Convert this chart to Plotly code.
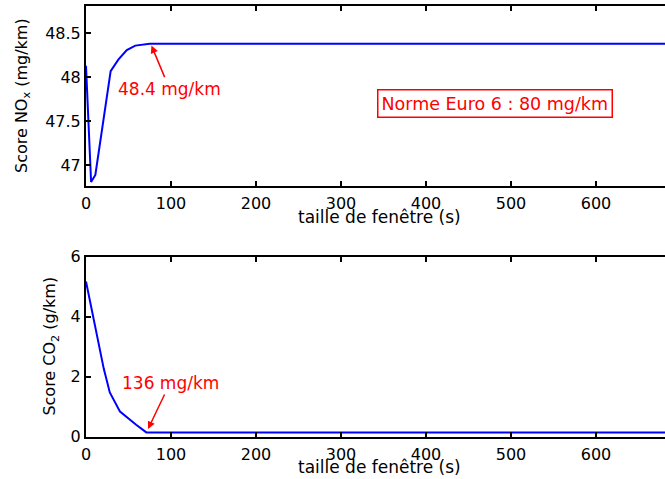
import plotly.graph_objects as go

# ---- data ----
window_nox = [0, 6, 11, 29, 38, 48, 58, 69, 75, 690]
score_nox = [48.13, 46.81, 46.89, 48.07, 48.20, 48.31, 48.36, 48.375, 48.38, 48.38]

window_co2 = [0, 21, 28, 40, 59, 71, 690]
score_co2 = [5.17, 2.25, 1.47, 0.83, 0.39, 0.136, 0.136]

x_ticks = [0, 100, 200, 300, 400, 500, 600]
nox_ticks = [47, 47.5, 48, 48.5]
nox_ticktext = ["47", "47.5", "48", "48.5"]
co2_ticks = [0, 2, 4, 6]

nox_note = "48.4 mg/km"
co2_note = "136 mg/km"
euro_note = "Norme Euro 6 : 80 mg/km"
xlabel = "taille de fenêtre (s)"
ylabel_nox = "Score NO<sub>x</sub> (mg/km)"
ylabel_co2 = "Score CO<sub>2</sub> (g/km)"

# ---- layout geometry ----
W, H = 665, 479
L = 86
PW = W - L
def py(p):  # pixel y -> paper y
    return 1 - p / H
def px(p):
    return (p - L) / PW

FONT = "DejaVu Sans"
fig = go.Figure()
fig.add_trace(go.Scatter(x=window_nox, y=score_nox, mode="lines",
                         line=dict(color="#0000FF", width=2), xaxis="x", yaxis="y",
                         showlegend=False, hoverinfo="skip"))
fig.add_trace(go.Scatter(x=window_co2, y=score_co2, mode="lines",
                         line=dict(color="#0000FF", width=2), xaxis="x2", yaxis="y2",
                         showlegend=False, hoverinfo="skip"))

xr = [0, PW / 0.85]
axis_common = dict(showline=True, linecolor="black", linewidth=2, ticks="inside",
                   ticklen=5, tickwidth=1.5, tickcolor="black", showgrid=False,
                   zeroline=False, automargin=False,
                   tickfont=dict(family=FONT, size=16, color="black"))

fig.update_layout(
    width=W, height=H,
    margin=dict(l=L, r=0, t=0, b=0, pad=0, autoexpand=False),
    paper_bgcolor="white", plot_bgcolor="white",
    xaxis=dict(domain=[0, 1], range=xr, tickvals=x_ticks, mirror="ticks",
               anchor="y", ticklabelstandoff=2, **axis_common),
    yaxis=dict(domain=[py(186), py(6)], range=[46.765, 48.81], tickvals=nox_ticks,
               ticktext=nox_ticktext, anchor="x", mirror=False, ticklabelstandoff=0,
               **axis_common),
    xaxis2=dict(domain=[0, 1], range=xr, tickvals=x_ticks, mirror="ticks",
                anchor="y2", ticklabelstandoff=2, **axis_common),
    yaxis2=dict(domain=[py(436.5), py(256.7)], range=[0, 6], tickvals=co2_ticks,
                anchor="x2", mirror=False, ticklabelstandoff=0, **axis_common),
)

red = "#FF0000"
C = dict(xanchor="center", yanchor="middle")
annots = [
    dict(x=77, y=48.36, xref="x", yref="y", text=nox_note, showarrow=True,
         ax=18, ay=43, arrowcolor=red, arrowwidth=1.5, arrowhead=2, arrowsize=1,
         font=dict(family=FONT, size=17, color=red), **C),
    dict(x=73, y=0.25, xref="x2", yref="y2", text=co2_note, showarrow=True,
         ax=22, ay=-46, arrowcolor=red, arrowwidth=1.5, arrowhead=2, arrowsize=1,
         font=dict(family=FONT, size=17, color=red), **C),
    dict(x=px(495), y=py(103), xref="paper", yref="paper", text=euro_note,
         showarrow=False, bordercolor=red, borderwidth=1.5, borderpad=3,
         bgcolor="white", font=dict(family=FONT, size=17.5, color=red), **C),
    dict(x=px(379.5), y=py(217.5), xref="paper", yref="paper", text=xlabel,
         showarrow=False, font=dict(family=FONT, size=17, color="black"), **C),
    dict(x=px(379.5), y=py(467), xref="paper", yref="paper", text=xlabel,
         showarrow=False, font=dict(family=FONT, size=17, color="black"), **C),
    dict(x=px(23), y=py(96), xref="paper", yref="paper", text=ylabel_nox,
         textangle=-90, showarrow=False, font=dict(family=FONT, size=16, color="black"), **C),
    dict(x=px(51), y=py(346.6), xref="paper", yref="paper", text=ylabel_co2,
         textangle=-90, showarrow=False, font=dict(family=FONT, size=16, color="black"), **C),
]
fig.update_layout(annotations=annots)

fig.write_html("out.html", config={"displayModeBar": False},
               post_script="document.body.style.margin='0';")
